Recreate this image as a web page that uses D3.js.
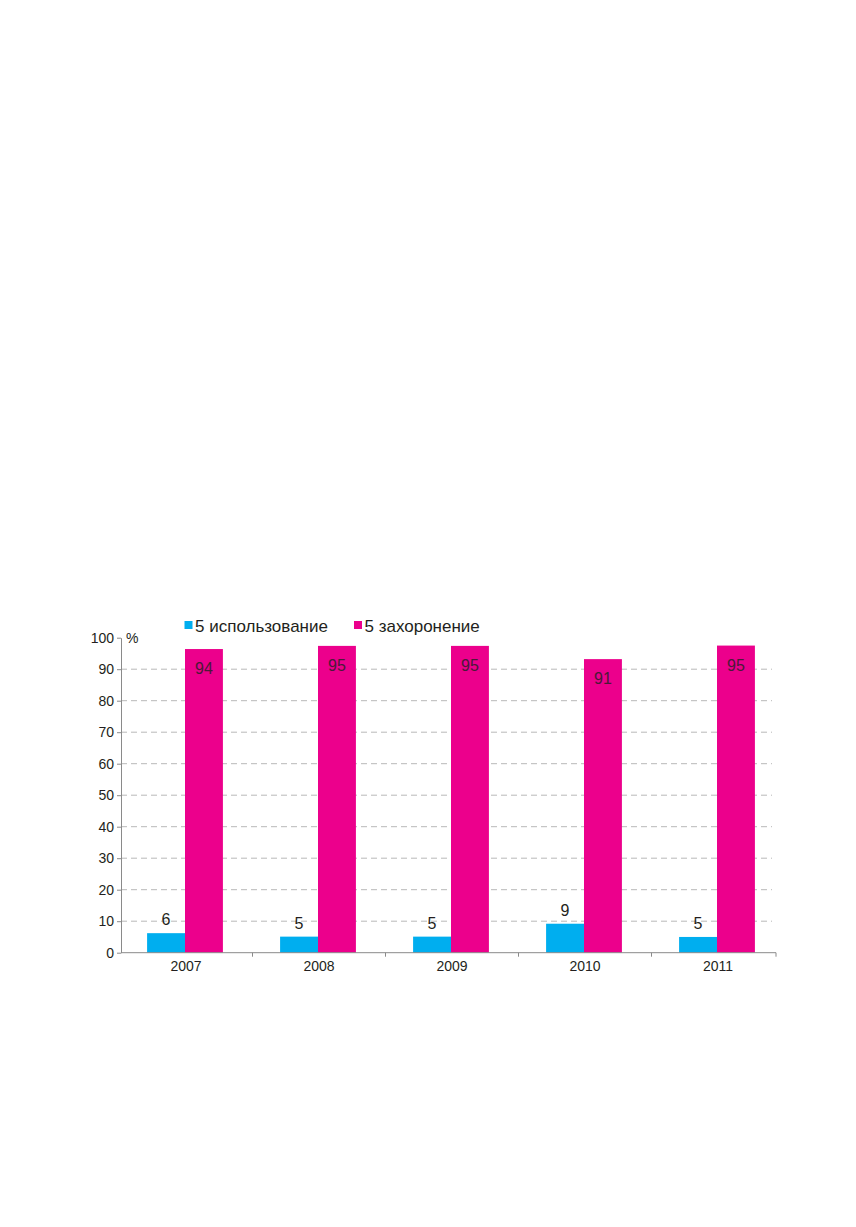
<!DOCTYPE html>
<html>
<head>
  <meta charset="utf-8">
  <script src="https://d3js.org/d3.v7.min.js"></script>
  <style type="text/css">
    body { margin: 0; background: #fff; }
    svg text { font-family: "Liberation Sans", Arial, Helvetica, sans-serif; }
    .grid line { stroke: #b8b8b8; stroke-dasharray: 6,4; }
    .axis path, .axis line { stroke: #8a8a8a; }
  </style>
</head>
<body>
  <div id="chartContainer"></div>

  <script type="text/javascript">
    // data
    var years = ['2007', '2008', '2009', '2010', '2011'];
    var usage = [6.2, 5.1, 5.1, 9.2, 5.0];          // drawn bar heights
    var burial = [96.4, 97.4, 97.4, 93.2, 97.5];
    var usageLabels = ['6', '5', '5', '9', '5'];      // printed values
    var burialLabels = ['94', '95', '95', '91', '95'];
    var seriesNames = ['5 использование', '5 захоронение'];
    var yTicks = [0, 10, 20, 30, 40, 50, 60, 70, 80, 90, 100];

    var colors = ['#00aeef', '#ec008c'];

    var width = 856, height = 1227;
    var plotLeft = 121, plotRight = 776, plotTop = 637.7, plotBottom = 952.7;

    var svg = d3.select('#chartContainer').append('svg')
      .attr('width', width)
      .attr('height', height);

    // categories are a little wider than the drawn axis (last one runs past its end)
    var x = d3.scaleBand().domain(years).range([119.5, 784.5]).paddingInner(0.43).paddingOuter(0.215);
    var xs = d3.scaleBand().domain([0, 1]).range([0, x.bandwidth()]);
    var y = d3.scaleLinear().domain([0, 100]).range([plotBottom, plotTop]);

    // gridlines
    svg.append('g').attr('class', 'grid')
      .selectAll('line')
      .data(yTicks.filter(function(d) { return d > 0 && d < 100; }))
      .enter().append('line')
      .attr('x1', plotLeft).attr('x2', plotRight - 4)
      .attr('y1', function(d) { return y(d); })
      .attr('y2', function(d) { return y(d); });

    var rows = years.map(function(yr, i) {
      return { year: yr, vals: [usage[i], burial[i]], labels: [usageLabels[i], burialLabels[i]] };
    });

    var groups = svg.selectAll('.year')
      .data(rows)
      .enter().append('g')
      .attr('class', 'year')
      .attr('transform', function(d) { return 'translate(' + (x(d.year) - 1) + ',0)'; });

    groups.selectAll('rect')
      .data(function(d) { return d.vals; })
      .enter().append('rect')
      .attr('x', function(d, i) { return xs(i); })
      .attr('width', xs.bandwidth())
      .attr('y', function(d) { return y(d); })
      .attr('height', function(d) { return plotBottom - y(d); })
      .attr('fill', function(d, i) { return colors[i]; });

    groups.selectAll('text.val')
      .data(function(d) { return d.vals.map(function(v, i) { return { v: v, t: d.labels[i], i: i }; }); })
      .enter().append('text')
      .attr('class', 'val')
      .attr('x', function(d) { return xs(d.i) + xs.bandwidth() / 2; })
      .attr('y', function(d) { return d.i === 0 ? y(d.v) - 8 : y(d.v) + 25; })
      .attr('text-anchor', 'middle')
      .style('font-size', '16px')
      .attr('fill', function(d) { return d.i === 0 ? '#231f20' : '#4a1a38'; })
      .text(function(d) { return d.t; });

    // y axis
    var yAxis = svg.append('g').attr('class', 'axis')
      .attr('transform', 'translate(' + plotLeft + ',0)')
      .call(d3.axisLeft(y).tickValues(yTicks).tickSize(4).tickPadding(3).tickSizeOuter(0));
    yAxis.selectAll('text').style('font-size', '14px').attr('fill', '#231f20');

    // x axis, ticks at category boundaries
    var xAxis = svg.append('g').attr('class', 'axis')
      .attr('transform', 'translate(0,' + plotBottom + ')')
      .call(d3.axisBottom(x).tickSize(0).tickPadding(8).tickSizeOuter(0));
    xAxis.select('.domain').attr('d', 'M' + plotLeft + ',0H' + plotRight);
    xAxis.selectAll('text').style('font-size', '14px').attr('fill', '#231f20');
    var bounds = years.slice(1).map(function(d) { return x(d) - x.step() * x.paddingInner() / 2; });
    bounds.push(plotRight);
    xAxis.selectAll('.bound')
      .data(bounds)
      .enter().append('line')
      .attr('class', 'bound')
      .attr('x1', function(d) { return d; })
      .attr('x2', function(d) { return d; })
      .attr('y1', 0).attr('y2', 4);

    svg.append('text')
      .attr('x', plotLeft + 5).attr('y', plotTop + 5)
      .style('font-size', '14px').attr('fill', '#231f20')
      .text('%');

    // legend
    var legendX = [184.5, 354];
    var legend = svg.selectAll('.legend')
      .data(seriesNames)
      .enter().append('g')
      .attr('class', 'legend')
      .attr('transform', function(d, i) { return 'translate(' + legendX[i] + ',621)'; });
    legend.append('rect').attr('width', 8).attr('height', 8)
      .attr('fill', function(d, i) { return colors[i]; });
    legend.append('text').attr('x', 10.5).attr('y', 11)
      .style('font-size', '17px').attr('fill', '#231f20')
      .text(function(d) { return d; });
  </script>
</body>
</html>
